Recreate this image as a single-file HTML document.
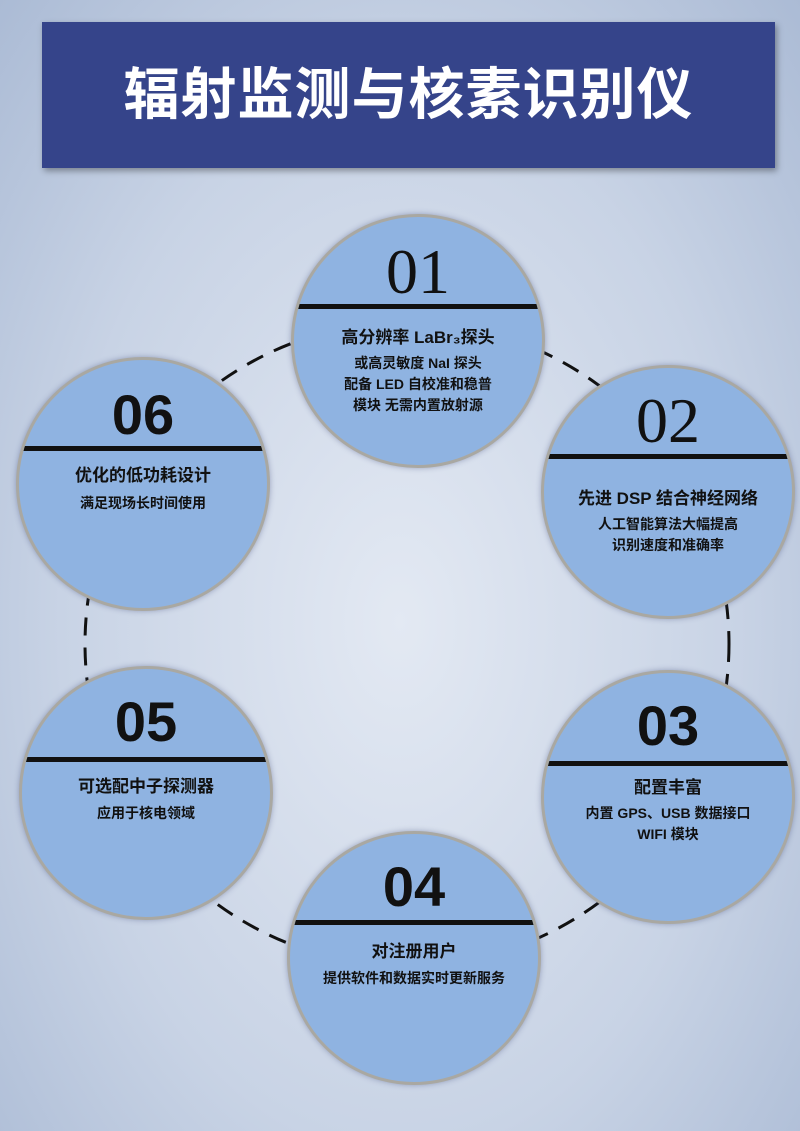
<!DOCTYPE html>
<html><head><meta charset="utf-8"><style>
body{margin:0;width:800px;height:1131px;overflow:hidden;position:relative;font-family:"Liberation Sans","Noto Sans CJK SC",sans-serif;
background:radial-gradient(ellipse at 50% 55%,#e3e9f3 0%,#c8d3e5 60%,#abbbd5 100%);}
.banner{position:absolute;left:42px;top:22px;width:733px;height:146px;background:#35448a;box-shadow:2px 3px 6px rgba(0,0,0,.35);color:#fff;font-size:56px;font-weight:bold;text-align:center;line-height:146px;letter-spacing:1px}
.c{position:absolute;width:248px;height:248px;border-radius:50%;background:#8fb3e1;border:3px solid #a9a8a2;box-shadow:0 0 6px rgba(60,70,120,.4);overflow:hidden;text-align:center;color:#111}
.num{position:absolute;left:0;width:100%;font-size:56px;font-weight:bold}
.serif{font-family:"Liberation Serif",serif;font-weight:normal;font-size:64px}
.ln{position:absolute;left:0;width:100%;height:5px;background:#111}
.h{position:absolute;left:0;width:100%;font-size:17px;font-weight:bold}
.s{position:absolute;left:0;width:100%;font-size:14px;font-weight:bold;line-height:21px}
</style></head><body>
<div class="banner">辐射监测与核素识别仪</div>
<svg width="800" height="1131" style="position:absolute;left:0;top:0"><circle cx="407" cy="644" r="322" fill="none" stroke="#111" stroke-width="3" stroke-dasharray="18 12"/></svg>

<div class="c" style="left:291px;top:214px"><div class="num serif" style="top:18px">01</div><div class="ln" style="top:87px"></div>
<div class="h" style="top:106px">高分辨率 LaBr₃探头</div><div class="s" style="top:136px">或高灵敏度 NaI 探头<br>配备 LED 自校准和稳普<br>模块 无需内置放射源</div></div>

<div class="c" style="left:541px;top:365px"><div class="num serif" style="top:16px">02</div><div class="ln" style="top:86px"></div>
<div class="h" style="top:116px">先进 DSP 结合神经网络</div><div class="s" style="top:146px">人工智能算法大幅提高<br>识别速度和准确率</div></div>

<div class="c" style="left:541px;top:670px"><div class="num" style="top:20px">03</div><div class="ln" style="top:88px"></div>
<div class="h" style="top:100px">配置丰富</div><div class="s" style="top:130px">内置 GPS、USB 数据接口<br>WIFI 模块</div></div>

<div class="c" style="left:287px;top:831px"><div class="num" style="top:20px">04</div><div class="ln" style="top:86px"></div>
<div class="h" style="top:103px">对注册用户</div><div class="s" style="top:134px">提供软件和数据实时更新服务</div></div>

<div class="c" style="left:19px;top:666px"><div class="num" style="top:20px">05</div><div class="ln" style="top:88px"></div>
<div class="h" style="top:103px">可选配中子探测器</div><div class="s" style="top:134px">应用于核电领域</div></div>

<div class="c" style="left:16px;top:357px"><div class="num" style="top:22px">06</div><div class="ln" style="top:86px"></div>
<div class="h" style="top:101px">优化的低功耗设计</div><div class="s" style="top:133px">满足现场长时间使用</div></div>
</body></html>
